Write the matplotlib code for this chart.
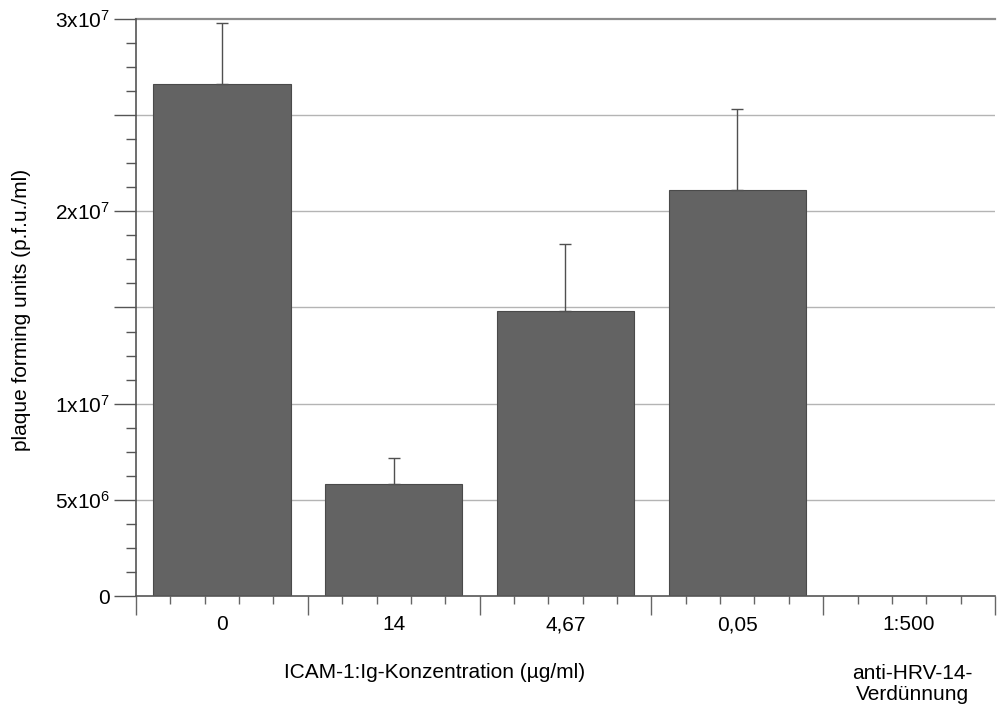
"""Plaque assay: p.f.u./ml after ICAM-1:Ig treatment, with anti-HRV-14 control."""

import matplotlib
matplotlib.use("Agg")
import matplotlib.pyplot as plt
from matplotlib.ticker import FixedLocator, FuncFormatter, MultipleLocator

plt.rcParams["font.family"] = ["Liberation Sans", "DejaVu Sans"]
plt.rcParams["mathtext.fontset"] = "custom"
plt.rcParams["mathtext.rm"] = "Liberation Sans"
plt.rcParams["mathtext.default"] = "regular"

categories = ["0", "14", "4,67", "0,05", "1:500"]
pfu_mean = [2.66e7, 0.58e7, 1.48e7, 2.11e7, 0.0]
pfu_err = [0.32e7, 0.14e7, 0.35e7, 0.42e7, 0.0]

y_labels = {0: "0", 5e6: "5x10$^{6}$", 1e7: "1x10$^{7}$", 2e7: "2x10$^{7}$", 3e7: "3x10$^{7}$"}

BAR = "#636363"
GRID = "#b4b4b4"
FS = 15

fig = plt.figure(figsize=(9.97, 7.06), dpi=100)
ax = fig.add_axes([0.1364, 0.1558, 0.8616, 0.8173])

x = list(range(len(categories)))
ax.bar(x, pfu_mean, width=0.8, color=BAR, edgecolor="#4a4a4a", linewidth=0.8, zorder=2)
has_err = [i for i, e in enumerate(pfu_err) if e > 0]
ax.errorbar([x[i] for i in has_err], [pfu_mean[i] for i in has_err],
            yerr=[[0] * len(has_err), [pfu_err[i] for i in has_err]],
            fmt="none", ecolor="#505050", elinewidth=1.0, capsize=4, capthick=1.0, zorder=3)

ax.set_xlim(-0.5, 4.5)
ax.set_ylim(0, 3e7)

# horizontal grid every 5x10^6
for yv in [5e6, 1e7, 1.5e7, 2e7, 2.5e7]:
    ax.axhline(yv, color=GRID, linewidth=1.0, zorder=1)
ax.axhline(3e7, color="#8c8c8c", linewidth=1.6, zorder=1, clip_on=False)

ax.yaxis.set_major_locator(MultipleLocator(5e6))
ax.yaxis.set_minor_locator(MultipleLocator(1.25e6))
ax.yaxis.set_major_formatter(FuncFormatter(lambda v, p: y_labels.get(round(v), "")))
ax.tick_params(axis="y", which="major", length=16, width=1.0, color="#555555", labelsize=FS, pad=3)
ax.tick_params(axis="y", which="minor", length=7, width=1.0, color="#555555")

ax.xaxis.set_major_locator(FixedLocator([i - 0.5 for i in range(6)]))
ax.xaxis.set_minor_locator(FixedLocator([i * 0.2 - 0.5 for i in range(26) if i % 5]))
ax.xaxis.set_major_formatter(FuncFormatter(lambda v, p: ""))
ax.tick_params(axis="x", which="major", length=14, width=1.0, color="#666666")
ax.tick_params(axis="x", which="minor", length=6, width=1.0, color="#666666")
for i, lab in enumerate(categories):
    ax.text(i, -0.050, lab, transform=ax.get_xaxis_transform(), ha="center", va="center", fontsize=FS)

for side in ["top", "right"]:
    ax.spines[side].set_visible(False)
ax.spines["left"].set_color("#555555")
ax.spines["bottom"].set_color("#555555")
ax.spines["left"].set_linewidth(1.2)
ax.spines["bottom"].set_linewidth(1.2)

ax.set_ylabel("plaque forming units (p.f.u./ml)", fontsize=FS)
ax.yaxis.set_label_coords(-0.122, 0.495)
fig.text(435 / 997, 1 - 672 / 706, "ICAM-1:Ig-Konzentration (µg/ml)", ha="center", va="center", fontsize=FS)
fig.text(912 / 997, 1 - 684 / 706, "anti-HRV-14-\nVerdünnung", ha="center", va="center",
         fontsize=FS, linespacing=1.1)

fig.savefig("out.png", dpi=100)
